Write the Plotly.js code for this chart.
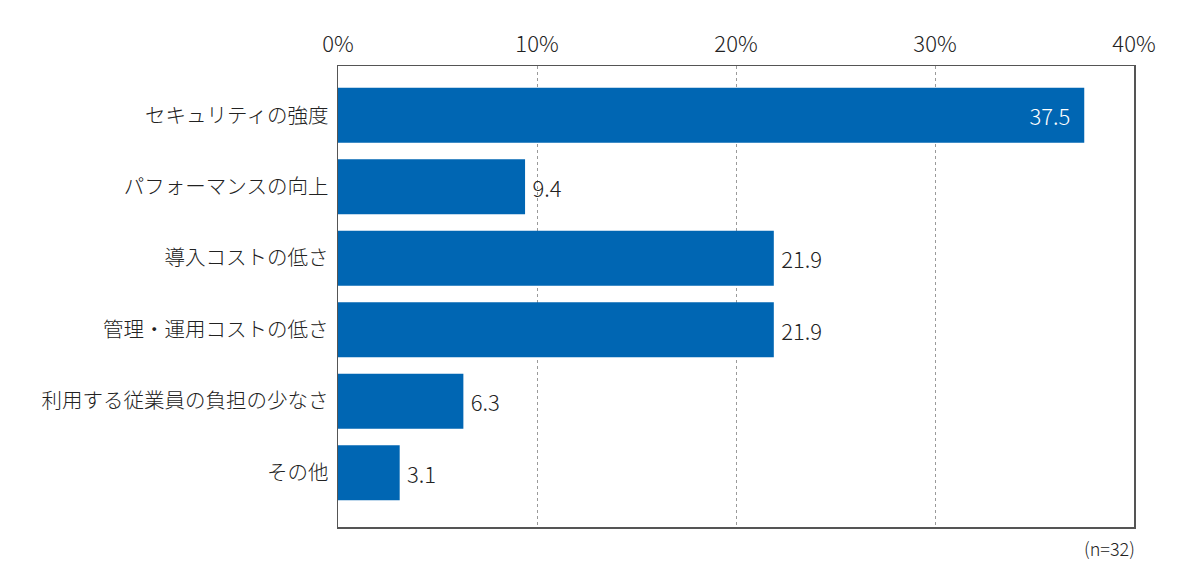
<!DOCTYPE html>
<html>
<head>
<meta charset="utf-8">
<script src="https://cdn.plot.ly/plotly-3.0.1.min.js"></script>
<style>
  html, body { margin: 0; padding: 0; background: #fff; }
  #myDiv { width: 1200px; height: 579px; }
</style>
</head>
<body>
<div id="myDiv"></div>
<script>
var categories = ['セキュリティの強度', 'パフォーマンスの向上', '導入コストの低さ',
                  '管理・運用コストの低さ', '利用する従業員の負担の少なさ', 'その他'],
    values = [37.5, 9.4, 21.9, 21.9, 6.3, 3.1],
    tickVals = [0, 10, 20, 30, 40],
    tickText = ['0%', '10%', '20%', '30%', '40%'];

var fontFam = '"Noto Sans CJK JP", "Noto Sans", sans-serif';

// the longest bar carries its label inside in white
var isInside = values.map(function(v){ return v > 30; });
var labelPos = isInside.map(function(b){ return b ? 'inside' : 'outside'; });
var labelColor = isInside.map(function(b){ return b ? '#ffffff' : '#222222'; });
var labels = values.map(function(v, i){
  return isInside[i] ? v.toFixed(1) + '\u2002' : '\u2009' + v.toFixed(1);
});

var data = [{
  type: 'bar',
  orientation: 'h',
  x: values,
  y: categories,
  width: 0.77,
  marker: {color: '#0066b3'},
  text: labels,
  textposition: labelPos,
  insidetextanchor: 'end',
  textfont: {family: fontFam, size: 22, weight: 300, color: labelColor},
  cliponaxis: false,
  hoverinfo: 'none'
}];

var layout = {
  width: 1200,
  height: 579,
  margin: {l: 338, r: 66, t: 66, b: 52},
  paper_bgcolor: '#ffffff',
  plot_bgcolor: '#ffffff',
  showlegend: false,
  font: {family: fontFam, size: 20, weight: 300, color: '#222222'},
  xaxis: {
    side: 'top',
    range: [0, 40],
    tickvals: tickVals,
    ticktext: tickText,
    tickfont: {size: 22, weight: 300, color: '#222222'},
    ticks: '',
    ticklen: 0,
    ticklabelstandoff: 4,
    showgrid: true,
    gridcolor: '#9a9a9a',
    griddash: '3px,3px',
    gridwidth: 1,
    zeroline: false,
    showline: true,
    linecolor: '#555555',
    linewidth: 1.5,
    mirror: true,
    fixedrange: true
  },
  yaxis: {
    type: 'category',
    range: [5.76, -0.69],
    tickfont: {size: 20.5, weight: 300, color: '#222222'},
    ticks: '',
    ticklabelstandoff: 4,
    showgrid: false,
    zeroline: false,
    showline: true,
    linecolor: '#555555',
    linewidth: 1.5,
    mirror: true,
    fixedrange: true
  },
  annotations: [{
    text: '(n=32)',
    xref: 'paper', yref: 'paper',
    x: 1, y: 0,
    xanchor: 'right', yanchor: 'top',
    yshift: -6,
    xshift: 3,
    showarrow: false,
    font: {family: fontFam, size: 18, weight: 300, color: '#222222'}
  }]
};

Plotly.newPlot('myDiv', data, layout, {displayModeBar: false, staticPlot: true});
</script>
</body>
</html>
